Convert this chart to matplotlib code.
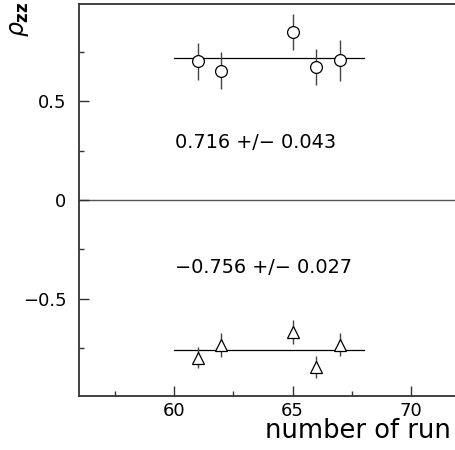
import numpy as np
import matplotlib
matplotlib.use("Agg")
import matplotlib.pyplot as plt
from matplotlib.ticker import MultipleLocator

# run numbers and measured rho_zz, two data sets
runs = [61, 62, 65, 66, 67]
rho_pos = [0.700, 0.654, 0.851, 0.671, 0.706]
err_pos = [0.093, 0.094, 0.091, 0.091, 0.103]
rho_neg = [-0.796, -0.733, -0.666, -0.843, -0.730]
err_neg = [0.055, 0.062, 0.059, 0.056, 0.059]

fit_range = [60, 68]
fit_pos, fit_pos_err = 0.716, 0.043
fit_neg, fit_neg_err = -0.756, 0.027

plt.rcParams["font.family"] = "DejaVu Sans"
plt.rcParams["mathtext.fontset"] = "dejavusans"

fig = plt.figure(figsize=(4.56, 4.50), dpi=100)
# axes runs past the right edge of the figure, as in the original
ax = fig.add_axes([79 / 456, 54 / 450, 0.8535, 392 / 450])

ax.axhline(0.0, color="#555555", lw=1.0, zorder=1)
ax.plot(fit_range, [fit_pos, fit_pos], color="black", lw=0.9, zorder=2)
ax.plot(fit_range, [fit_neg, fit_neg], color="black", lw=0.9, zorder=2)

ax.errorbar(runs, rho_pos, yerr=err_pos, fmt="none", ecolor="#444444",
            elinewidth=1.0, capsize=0, zorder=3)
ax.plot(runs, rho_pos, "o", ms=8.5, mfc="white", mec="black", mew=0.9,
        zorder=4, ls="none")
ax.errorbar(runs, rho_neg, yerr=err_neg, fmt="none", ecolor="#444444",
            elinewidth=1.0, capsize=0, zorder=3)
ax.plot(runs, rho_neg, "^", ms=9, mfc="white", mec="black", mew=0.9,
        zorder=4, ls="none")

ax.text(60.05, 0.29, f"{fit_pos:.3f} +/\u2212 {fit_pos_err:.3f}",
        fontsize=13.9, va="center", ha="left")
ax.text(60.05, -0.34, f"\u2212{abs(fit_neg):.3f} +/\u2212 {fit_neg_err:.3f}",
        fontsize=13.9, va="center", ha="left")

ax.set_xlim(56, 72.4)
ax.set_ylim(-0.99, 0.99)
ax.xaxis.set_major_locator(MultipleLocator(5))
ax.xaxis.set_minor_locator(MultipleLocator(2.5))
ax.yaxis.set_minor_locator(MultipleLocator(0.25))
ax.set_yticks([-0.5, 0, 0.5])
ax.set_yticklabels(["\u22120.5", "0", "0.5"])

ax.tick_params(which="both", direction="in", top=False, right=False,
               color="#333333", width=1.0, labelsize=13)
ax.tick_params(which="major", length=7)
ax.tick_params(which="minor", length=3.5)
ax.tick_params(axis="y", pad=9)
ax.tick_params(axis="x", pad=4)

for side in ["left", "bottom", "top"]:
    ax.spines[side].set_color("#333333")
    ax.spines[side].set_linewidth(1.3)
ax.spines["right"].set_visible(False)

fig.text(265 / 456, 1 - 438 / 450, "number of run", fontsize=18.5,
         ha="left", va="baseline")
fig.text(19 / 456, 1 - 2 / 450, r"$\rho_{\mathbf{zz}}$", fontsize=17,
         rotation=90, ha="center", va="top")

fig.savefig("out.png", dpi=100)
